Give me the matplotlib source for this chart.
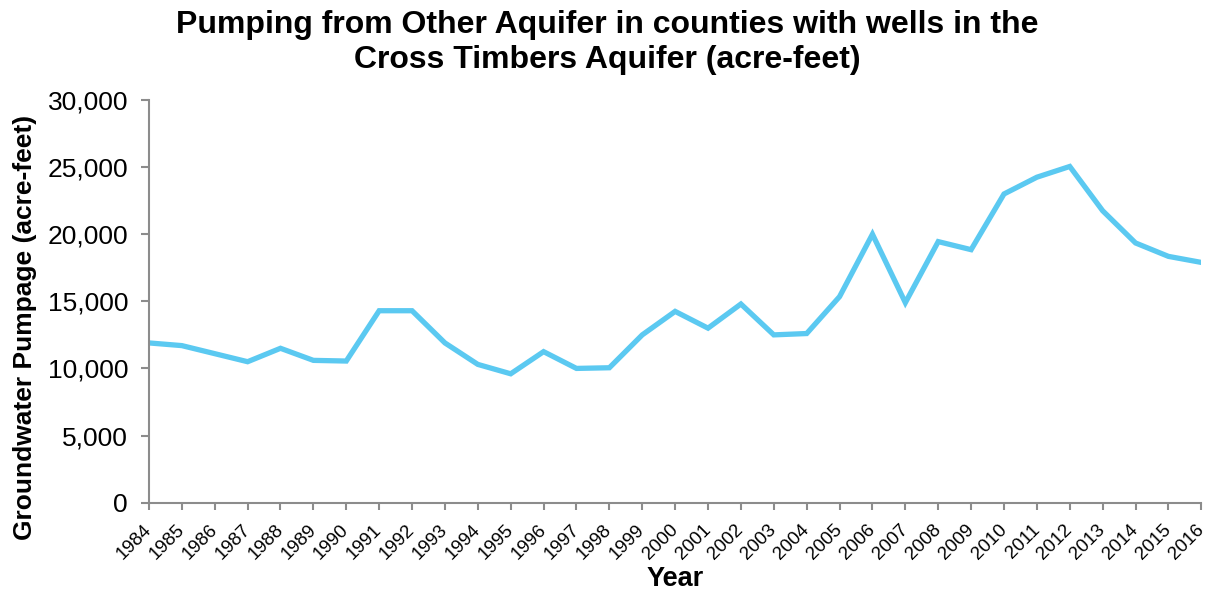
import numpy as np
from matplotlib import pyplot as plt
from matplotlib.ticker import FuncFormatter

plt.rcParams['font.family'] = ['Liberation Sans', 'DejaVu Sans']

years = list(range(1984, 2017))
pumpage = [11900, 11700, 11100, 10500, 11500, 10600, 10550, 14300, 14300, 11900,
           10300, 9600, 11250, 10000, 10050, 12500, 14250, 13000, 14800, 12500,
           12600, 15350, 20000, 14900, 19450, 18850, 23000, 24250, 25050, 21750,
           19350, 18350, 17900]

line_color = '#5BC9F1'
axis_color = '#8C8C8C'

fig = plt.figure(figsize=(12.11, 5.92), dpi=100)
ax = fig.add_axes([0.123, 0.151, 0.869, 0.680])

ax.plot(years, pumpage, color=line_color, linewidth=3.8, solid_capstyle='round',
        solid_joinstyle='miter')

ax.set_xlim(years[0], years[-1])
ax.set_ylim(0, 30000)
ax.set_xticks(years)
ax.set_xticklabels([str(y) for y in years], rotation=45, ha='right', va='center',
                   rotation_mode='anchor', fontsize=13.5)
ax.set_yticks(np.arange(0, 30001, 5000))
ax.yaxis.set_major_formatter(FuncFormatter(lambda v, p: '{:,.0f}'.format(v)))
ax.tick_params(axis='y', labelsize=19, length=6, width=1.5, color=axis_color, pad=9)
ax.tick_params(axis='x', length=5, width=1.5, color=axis_color, pad=13)

for side in ['top', 'right']:
  ax.spines[side].set_visible(False)
for side in ['left', 'bottom']:
  ax.spines[side].set_color(axis_color)
  ax.spines[side].set_linewidth(1.5)

fig.text(0.5 * (ax.get_position().x0 + ax.get_position().x1), 1 - 579 / 592, 'Year',
         fontsize=19.5, fontweight='bold', ha='center', va='center')
fig.text(25 / 1211, 1 - 327 / 592, 'Groundwater Pumpage (acre-feet)', rotation=90,
         fontsize=19, fontweight='bold', ha='center', va='center')
fig.text(607 / 1211, 1 - 10 / 592,
         'Pumping from Other Aquifer in counties with wells in the\n'
         'Cross Timbers Aquifer (acre-feet)',
         fontsize=23, fontweight='bold', ha='center', va='top', linespacing=1.2)

fig.savefig('out.png', dpi=100)
